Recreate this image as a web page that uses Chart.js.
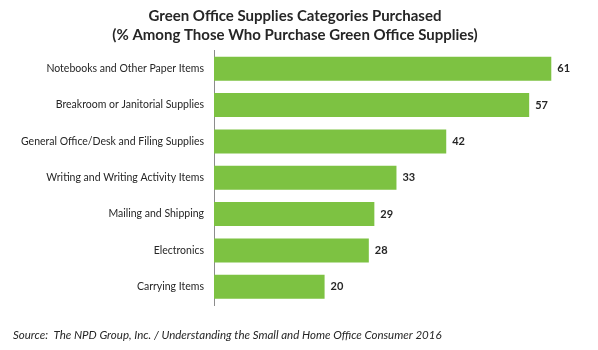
<!DOCTYPE html>
<html>
<head>
<meta charset="utf-8">
<script src="https://cdn.jsdelivr.net/npm/chart.js@4.4.1/dist/chart.umd.min.js"></script>
<style>
  html, body { margin: 0; padding: 0; background: #fff; }
  #wrap { width: 598px; height: 350px; position: relative; }
</style>
</head>
<body>
<div id="wrap"><canvas id="myChart"></canvas></div>
<script>
const categories = [
    'Notebooks and Other Paper Items',
    'Breakroom or Janitorial Supplies',
    'General Office/Desk and Filing Supplies',
    'Writing and Writing Activity Items',
    'Mailing and Shipping',
    'Electronics',
    'Carrying Items',
];
const percentages = [61, 57, 42, 33, 29, 28, 20];

const titleLines = [
    'Green Office Supplies Categories Purchased',
    '(% Among Those Who Purchase Green Office Supplies)',
];
const sourceNote = 'Source:  The NPD Group, Inc. / Understanding the Small and Home Office Consumer 2016';

const fontFamily = 'Lato, "Open Sans", sans-serif';
const textColor = '#262626';

// numbers at the end of each bar
const valueLabels = {
    id: 'valueLabels',
    afterDatasetsDraw(chart) {
        const ctx = chart.ctx;
        const meta = chart.getDatasetMeta(0);
        ctx.save();
        ctx.font = 'bold 11px ' + fontFamily;
        ctx.fillStyle = textColor;
        ctx.textAlign = 'left';
        ctx.textBaseline = 'middle';
        meta.data.forEach((bar, i) => {
            ctx.fillText(String(chart.data.datasets[0].data[i]), bar.x + 6, bar.y);
        });
        ctx.restore();
    }
};

// source line under the plot
const sourceLine = {
    id: 'sourceLine',
    afterDraw(chart) {
        const ctx = chart.ctx;
        ctx.save();
        ctx.font = 'italic 11.5px ' + fontFamily;
        ctx.fillStyle = textColor;
        ctx.textAlign = 'left';
        ctx.textBaseline = 'middle';
        ctx.fillText(sourceNote, 13, 335);
        ctx.restore();
    }
};

const data = {
    labels: categories,
    datasets: [{
        label: 'Percent',
        data: percentages,
        backgroundColor: '#7dc242',
        borderWidth: 0,
        categoryPercentage: 1,
        barPercentage: 0.66,
    }]
};

const config = {
    type: 'bar',
    data: data,
    plugins: [valueLabels, sourceLine],
    options: {
        indexAxis: 'y',
        responsive: true,
        maintainAspectRatio: false,
        animation: false,
        layout: {
            padding: { top: 7, left: 0, right: 8, bottom: 45 }
        },
        plugins: {
            legend: { display: false },
            tooltip: { enabled: false },
            title: {
                display: true,
                text: titleLines,
                color: textColor,
                font: { family: fontFamily, size: 15, weight: 'bold', lineHeight: 1.25 },
                padding: { top: 0, bottom: 6 }
            }
        },
        scales: {
            x: {
                display: false,
                min: 0,
                max: 68,
            },
            y: {
                grid: { display: false, drawTicks: false },
                border: { display: true, color: '#8c8c8c', width: 1 },
                ticks: {
                    color: textColor,
                    font: { family: fontFamily, size: 10.5 },
                    padding: 10,
                },
                afterFit(scale) {
                    scale.width = 214;
                }
            }
        }
    }
};

var myChart = new Chart(
    document.getElementById('myChart'),
    config
);
</script>
</body>
</html>
